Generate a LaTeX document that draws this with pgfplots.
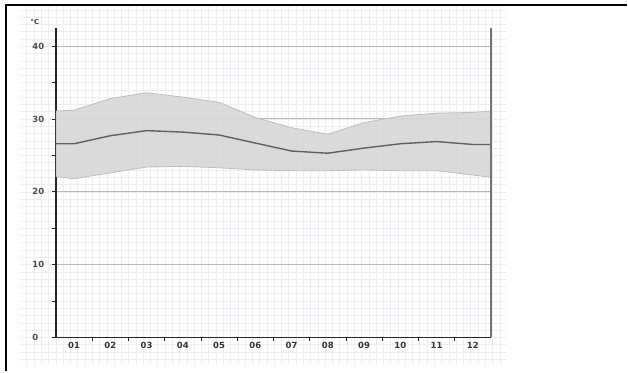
\documentclass[border=0pt]{standalone}
\usepackage{fontspec}
\setmainfont{DejaVu Sans}
\usepackage{pgfplots}
\pgfplotsset{compat=1.18}

\pgfplotstableread{
x low mean high
0 22.1 26.6 31.1
0.5 21.8 26.6 31.2
1.5 22.6 27.7 32.8
2.5 23.4 28.4 33.6
3.5 23.5 28.2 33.0
4.5 23.3 27.8 32.3
5.5 23.0 26.7 30.2
6.5 22.9 25.6 28.8
7.5 22.9 25.3 27.9
8.5 23.0 26.0 29.5
9.5 22.9 26.6 30.4
10.5 22.9 26.9 30.8
11.5 22.3 26.5 30.9
12 22.0 26.5 31.1
}\climate

% outline of the band: upper edge left to right, lower edge right to left
\pgfplotstableread{
x y
0 31.1
0.5 31.2
1.5 32.8
2.5 33.6
3.5 33.0
4.5 32.3
5.5 30.2
6.5 28.8
7.5 27.9
8.5 29.5
9.5 30.4
10.5 30.8
11.5 30.9
12 31.1
12 22.0
11.5 22.3
10.5 22.9
9.5 22.9
8.5 23.0
7.5 22.9
6.5 22.9
5.5 23.0
4.5 23.3
3.5 23.5
2.5 23.4
1.5 22.6
0.5 21.8
0 22.1
}\bandtab

\definecolor{paper}{HTML}{EBEEF4}
\definecolor{band}{HTML}{D8D8DA}
\definecolor{bandedge}{HTML}{BDBDBF}

\begin{document}
\begin{tikzpicture}
\path (0bp,0bp) rectangle (628bp,372bp);
% graph paper background
\begin{scope}
\clip (20bp,7bp) rectangle (507bp,366bp);
\begin{scope}[shift={(56bp,34bp)}]
\draw[paper, line width=0.7bp, step=7.29bp] (-44bp,-30bp) grid (460bp,340bp);
\end{scope}
\end{scope}
% outer frame
\draw[black, line width=1.3bp] (5bp,367bp) -- (508bp,367bp);
\draw[black, line width=2bp] (508bp,367bp) -- (628bp,367bp);
\draw[black, line width=2bp] (6bp,367bp) -- (6bp,0bp);
\begin{axis}[
  at={(56bp,34bp)}, anchor=south west,
  scale only axis, width=435.7bp, height=310bp,
  xmin=0, xmax=12, ymin=0, ymax=42.5,
  axis x line=bottom, axis y line=left,
  axis line style={-, line width=1.3bp, black!85},
  ytick={0,10,20,30,40}, minor ytick={5,15,25,35},
  tick align=outside,
  major tick length=4bp, minor tick length=4bp,
  tick style={black!85, line width=0.8bp},
  ymajorgrids, grid style={gray!55, line width=1bp},
  xtick={1,...,11}, xticklabels={},
  extra x ticks={0.5,1.5,...,11.5},
  extra x tick labels={01,02,03,04,05,06,07,08,09,10,11,12},
  extra x tick style={major tick length=0pt, grid=none},
  /pgf/number format/assume math mode=true,
  yticklabel style={font=\bfseries\fontsize{8.5}{9}\selectfont, text=black!70, text width=14bp, align=left, anchor=east, xshift=-2bp},
  xticklabel style={font=\bfseries\fontsize{8.5}{9}\selectfont, text=black!80, yshift=-1bp},
]
\addplot[fill=band, fill opacity=0.93, draw=none] table[x=x,y=y]{\bandtab} -- cycle;
\addplot[draw=bandedge, line width=0.8bp] table[x=x,y=high]{\climate};
\addplot[draw=bandedge, line width=0.8bp] table[x=x,y=low]{\climate};
\addplot[draw=black!62, line width=1.4bp] table[x=x,y=mean]{\climate};
\end{axis}
\draw[black!55, line width=1.6bp] (491.7bp,34bp) -- (491.7bp,344bp);
\node[font=\bfseries\fontsize{7}{8}\selectfont, text=black!75] at (35bp,350bp) {°C};
\end{tikzpicture}
\end{document}
